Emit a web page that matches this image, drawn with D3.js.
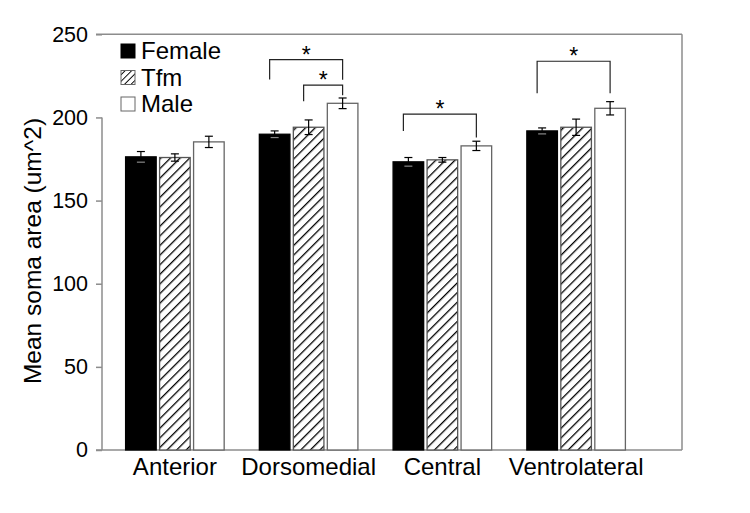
<!DOCTYPE html>
<html>
<head>
<meta charset="utf-8">
<script src="https://cdn.jsdelivr.net/npm/d3@7"></script>
<style>
  html, body { margin: 0; padding: 0; background: #fff; }
  svg { display: block; font-family: "Liberation Sans", Arial, sans-serif; }
</style>
</head>
<body>
<svg id="chart" width="750" height="513"></svg>
<script>
// ---- Data ----
const categories = ["Anterior", "Dorsomedial", "Central", "Ventrolateral"];
const series = ["Female", "Tfm", "Male"];
const femaleValues = [176.3, 189.9, 173.3, 191.9];
const tfmValues = [175.9, 194.1, 174.5, 194.1];
const maleValues = [185.3, 208.5, 182.9, 205.5];
const femaleErrors = [3.2, 2.0, 2.6, 1.8];
const tfmErrors = [2.2, 4.4, 1.4, 4.9];
const maleErrors = [3.4, 3.2, 2.8, 4.0];
const yTicks = [0, 50, 100, 150, 200, 250];
const yTitle = "Mean soma area (um^2)";
// significance brackets: category, from series, to series, top level, left end, right end
const bracketCats = ["Dorsomedial", "Dorsomedial", "Central", "Ventrolateral"];
const bracketFrom = ["Female", "Tfm", "Female", "Female"];
const bracketTo = ["Male", "Male", "Male", "Male"];
const bracketTop = [234.8, 219.4, 202.0, 233.8];
const bracketLeftEnd = [222.8, 209.7, 191.8, 214.5];
const bracketRightEnd = [222.6, 213.3, 188.0, 214.5];

const valuesBySeries = { Female: femaleValues, Tfm: tfmValues, Male: maleValues };
const errorsBySeries = { Female: femaleErrors, Tfm: tfmErrors, Male: maleErrors };

const svg = d3.select("#chart");
const defs = svg.append("defs");

// hatch patterns
function hatch(id, size, sw) {
  const p = defs.append("pattern").attr("id", id)
    .attr("patternUnits", "userSpaceOnUse")
    .attr("width", size).attr("height", size)
    .attr("patternTransform", "rotate(45)");
  p.append("rect").attr("width", size).attr("height", size).attr("fill", "#fff");
  p.append("line").attr("x1", 0).attr("y1", 0).attr("x2", 0).attr("y2", size)
    .attr("stroke", "#000").attr("stroke-width", sw);
}
hatch("hatchBar", 6.8, 2.6);
hatch("hatchLegend", 4.6, 1.9);

const fills = { Female: "#000", Tfm: "url(#hatchBar)", Male: "#fff" };
const strokes = { Female: "#000", Tfm: "#555", Male: "#666" };
const legendFills = { Female: "#000", Tfm: "url(#hatchLegend)", Male: "#fff" };

// scales
const y = d3.scaleLinear().domain([0, 250]).range([450, 34.3]);
const x0 = d3.scaleBand().domain(categories).range([108, 643])
  .paddingInner(0.263).paddingOuter(0.1316);
const x1 = d3.scaleBand().domain(series).range([0, x0.bandwidth()]).paddingInner(0.1);

const axisColor = "#8c8c8c";
const plotLeft = 102, plotRight = 682;

// frame top and right
svg.append("line").attr("x1", 96).attr("x2", plotRight).attr("y1", y(250)).attr("y2", y(250))
  .attr("stroke", axisColor).attr("stroke-width", 1.5);
svg.append("line").attr("x1", plotRight).attr("x2", plotRight).attr("y1", y(250)).attr("y2", y(0))
  .attr("stroke", axisColor).attr("stroke-width", 1.5);

// y axis
const yAxis = svg.append("g").attr("transform", `translate(${plotLeft},0)`)
  .call(d3.axisLeft(y).tickValues(yTicks).tickSize(6).tickPadding(8));
yAxis.select(".domain").remove();
yAxis.selectAll(".tick line").attr("stroke", axisColor).attr("stroke-width", 1.5);
yAxis.selectAll(".tick text").attr("font-size", 21.5).attr("fill", "#000")
  .attr("font-family", "'Liberation Sans', Arial, sans-serif");
svg.append("line").attr("x1", plotLeft).attr("x2", plotLeft).attr("y1", y(200)).attr("y2", y(0))
  .attr("stroke", axisColor).attr("stroke-width", 1.5);

// x axis
const xAxis = svg.append("g").attr("transform", `translate(0,${y(0)})`)
  .call(d3.axisBottom(x0).tickSize(0).tickPadding(8));
xAxis.select(".domain").remove();
xAxis.selectAll(".tick text").attr("font-size", 24).attr("fill", "#000")
  .attr("font-family", "'Liberation Sans', Arial, sans-serif");
svg.append("line").attr("x1", 96).attr("x2", plotRight).attr("y1", y(0)).attr("y2", y(0))
  .attr("stroke", axisColor).attr("stroke-width", 1.5);

// y title
svg.append("text")
  .attr("transform", `translate(41,${251}) rotate(-90)`)
  .attr("text-anchor", "middle")
  .attr("font-size", 24.5)
  .text(yTitle);

// bars
const groups = svg.append("g").selectAll("g").data(categories).join("g")
  .attr("transform", d => `translate(${x0(d)},0)`);
series.forEach(s => {
  groups.append("rect")
    .attr("x", x1(s))
    .attr("width", x1.bandwidth())
    .attr("y", (d, i) => y(valuesBySeries[s][i]))
    .attr("height", (d, i) => y(0) - y(valuesBySeries[s][i]))
    .attr("fill", fills[s])
    .attr("stroke", strokes[s]).attr("stroke-width", 1.3);
});

// error bars
series.forEach(s => {
  const cx = x1(s) + x1.bandwidth() / 2;
  const g = groups.append("g").attr("stroke", "#000").attr("stroke-width", 1.2);
  g.append("line").attr("x1", cx).attr("x2", cx)
    .attr("y1", (d, i) => y(valuesBySeries[s][i] + errorsBySeries[s][i]))
    .attr("y2", (d, i) => y(valuesBySeries[s][i] - errorsBySeries[s][i]));
  g.append("line").attr("x1", cx - 4).attr("x2", cx + 4)
    .attr("y1", (d, i) => y(valuesBySeries[s][i] + errorsBySeries[s][i]))
    .attr("y2", (d, i) => y(valuesBySeries[s][i] + errorsBySeries[s][i]));
  g.append("line").attr("x1", cx - 4).attr("x2", cx + 4)
    .attr("y1", (d, i) => y(valuesBySeries[s][i] - errorsBySeries[s][i]))
    .attr("y2", (d, i) => y(valuesBySeries[s][i] - errorsBySeries[s][i]))
    .attr("stroke", s === "Female" ? "#888" : "#000");
});

// significance brackets
const bg = svg.append("g");
bracketCats.forEach((c, i) => {
  const xa = x0(c) + x1(bracketFrom[i]) + x1.bandwidth() / 2 - 5;
  const xb = x0(c) + x1(bracketTo[i]) + x1.bandwidth() / 2;
  const path = d3.path();
  path.moveTo(xa, y(bracketLeftEnd[i]));
  path.lineTo(xa, y(bracketTop[i]));
  path.lineTo(xb, y(bracketTop[i]));
  path.lineTo(xb, y(bracketRightEnd[i]));
  bg.append("path").attr("d", path.toString()).attr("fill", "none")
    .attr("stroke", "#222").attr("stroke-width", 1.2);
  bg.append("text").attr("x", (xa + xb) / 2).attr("y", y(bracketTop[i]) + 3)
    .attr("text-anchor", "middle").attr("font-size", 23).text("*");
});

// legend
svg.append("rect").attr("x", 101).attr("y", 36).attr("width", 130).attr("height", 80).attr("fill", "#fff");
const legend = svg.append("g");
series.forEach((s, i) => {
  const ly = 44 + i * 26.5;
  legend.append("rect").attr("x", 121).attr("y", ly).attr("width", 14).attr("height", 14)
    .attr("fill", legendFills[s]).attr("stroke", s === "Female" ? "#000" : "#666").attr("stroke-width", 1);
  legend.append("text").attr("x", 141).attr("y", ly + 15).attr("font-size", 24).text(s);
});
</script>
</body>
</html>
